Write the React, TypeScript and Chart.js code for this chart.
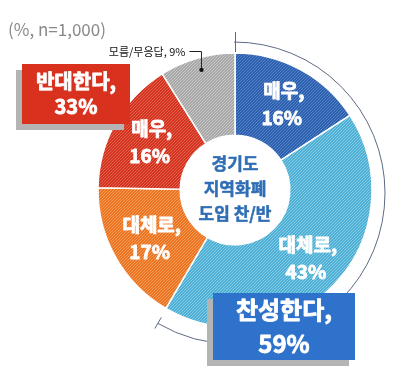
import React, { useEffect, useRef } from 'react';
import { Chart, registerables } from 'chart.js';

Chart.register(...registerables);

const categories = ['매우 찬성', '대체로 찬성', '대체로 반대', '매우 반대', '모름/무응답'];
const values = [16, 43, 17, 16, 9];
const segLabelTop = ['매우,', '대체로,', '대체로,', '매우,', ''];
const segLabelBottom = ['16%', '43%', '17%', '16%', ''];
const baseColors = ['#2C60AF', '#4DAFD3', '#EC7320', '#D3321F', '#A7A7A7'];
const stripeColors = ['#5483C8', '#86CCE6', '#F49C5A', '#E2634F', '#C9C9C9'];
const centerLines = ['경기도', '지역화폐', '도입 찬/반'];
const noteText = '(%, n=1,000)';
const groupAgainst = ['반대한다,', '33%'];
const groupFor = ['찬성한다,', '59%'];
const unknownLabel = '모름/무응답, 9%';

const FONT = '"Noto Sans CJK KR", "Noto Sans", sans-serif';

function hexToRgb(h: string) {
  const v = parseInt(h.slice(1), 16);
  return [(v >> 16) & 255, (v >> 8) & 255, v & 255];
}

function makePattern(base: string, stripe: string): CanvasPattern | string {
  const c = document.createElement('canvas');
  const n = 3;
  c.width = n;
  c.height = n;
  const ctx = c.getContext('2d');
  if (!ctx) return base;
  const img = ctx.createImageData(n, n);
  const b = hexToRgb(base);
  const s = hexToRgb(stripe);
  for (let y = 0; y < n; y++) {
    for (let x = 0; x < n; x++) {
      const i = (y * n + x) * 4;
      const col = (x + y) % n === 0 ? s : b;
      img.data[i] = col[0];
      img.data[i + 1] = col[1];
      img.data[i + 2] = col[2];
      img.data[i + 3] = 255;
    }
  }
  ctx.putImageData(img, 0, 0);
  const p = ctx.createPattern(c, 'repeat');
  return p || base;
}

function heavyText(ctx: CanvasRenderingContext2D, t: string, x: number, y: number, w: number) {
  ctx.lineWidth = w;
  ctx.lineJoin = 'round';
  ctx.strokeStyle = ctx.fillStyle as string;
  ctx.strokeText(t, x, y);
  ctx.fillText(t, x, y);
}

const overlayPlugin = {
  id: 'overlay',
  afterDatasetsDraw(chart: any) {
    const ctx: CanvasRenderingContext2D = chart.ctx;
    const meta = chart.getDatasetMeta(0);
    const arcs = meta.data as any[];
    if (!arcs.length) return;
    const cx = arcs[0].x;
    const cy = arcs[0].y;
    const outer = arcs[0].outerRadius;

    ctx.save();
    ctx.textAlign = 'center';
    ctx.textBaseline = 'middle';

    // segment labels
    arcs.forEach((a: any, i: number) => {
      if (!segLabelTop[i]) return;
      const mid = (a.startAngle + a.endAngle) / 2;
      const r = (a.innerRadius + a.outerRadius) / 2 + 2;
      const x = cx + Math.cos(mid) * r;
      const y = cy + Math.sin(mid) * r;
      ctx.font = `bold 19px ${FONT}`;
      ctx.fillStyle = '#FFFFFF';
      heavyText(ctx, segLabelTop[i], x + 2, y - 13, 0.8);
      heavyText(ctx, segLabelBottom[i], x, y + 14, 0.8);
    });

    // center text
    ctx.font = `bold 17px ${FONT}`;
    ctx.fillStyle = '#2F6DB4';
    centerLines.forEach((t, k) => {
      heavyText(ctx, t, cx, cy - 26 + k * 25, 0.5);
    });

    // outer arc for "찬성"
    const acx = cx - 1;
    const acy = cy + 3;
    const ar = outer + 14;
    const endAng = arcs[1].endAngle;
    ctx.strokeStyle = '#5C6B82';
    ctx.lineWidth = 1;
    ctx.beginPath();
    ctx.arc(acx, acy, ar, -Math.PI / 2, endAng);
    ctx.stroke();
    ctx.beginPath();
    ctx.moveTo(cx + 0.5, acy - ar - 10);
    ctx.lineTo(cx + 0.5, cy - outer - 1);
    ctx.stroke();
    ctx.beginPath();
    ctx.moveTo(acx + Math.cos(endAng) * (ar - 7), acy + Math.sin(endAng) * (ar - 7));
    ctx.lineTo(acx + Math.cos(endAng) * (ar + 6), acy + Math.sin(endAng) * (ar + 6));
    ctx.stroke();

    // unknown leader
    const g = arcs[4];
    const gm = (g.startAngle + Math.min(g.endAngle, 1.5 * Math.PI)) / 2;
    const dx = cx + Math.cos(gm) * (outer - 12);
    const dy = cy + Math.sin(gm) * (outer - 12);
    ctx.strokeStyle = '#222';
    ctx.beginPath();
    ctx.moveTo(dx - 11, cy - outer - 1.5);
    ctx.lineTo(dx + 1, cy - outer - 1.5);
    ctx.lineTo(dx + 1, dy);
    ctx.stroke();
    ctx.fillStyle = '#111';
    ctx.beginPath();
    ctx.arc(dx + 1, dy, 2.2, 0, Math.PI * 2);
    ctx.fill();
    ctx.font = `11px ${FONT}`;
    ctx.textAlign = 'right';
    ctx.fillStyle = '#111';
    ctx.fillText(unknownLabel, dx - 15, cy - outer - 1);

    // note
    ctx.textAlign = 'left';
    ctx.font = `17px ${FONT}`;
    ctx.fillStyle = '#8A8A8A';
    ctx.fillText(noteText, 8, 30);

    const drawBox = (x: number, y: number, w: number, h: number, fill: string, lines: string[], size: number, gap: number) => {
      ctx.fillStyle = '#B4B4B4';
      ctx.fillRect(x - 6, y + 6, w, h);
      ctx.fillStyle = fill;
      ctx.fillRect(x, y, w, h);
      ctx.fillStyle = '#FFFFFF';
      ctx.textAlign = 'center';
      ctx.font = `bold ${size}px ${FONT}`;
      heavyText(ctx, lines[0], x + w / 2, y + h / 2 - gap / 2, 0.8);
      heavyText(ctx, lines[1], x + w / 2, y + h / 2 + gap / 2, 0.8);
    };
    drawBox(22, 64, 108, 60, '#D8311D', groupAgainst, 20, 25);
    drawBox(213, 293, 142, 67, '#2F72CB', groupFor, 24, 34);

    ctx.restore();
  },
};

export default function App() {
  const ref = useRef<HTMLCanvasElement | null>(null);
  useEffect(() => {
    if (!ref.current) return;
    const patterns = baseColors.map((b, i) => makePattern(b, stripeColors[i]));
    const chart = new Chart(ref.current, {
      type: 'doughnut',
      data: {
        labels: categories,
        datasets: [
          {
            data: values,
            backgroundColor: patterns as any,
            borderColor: '#FFFFFF',
            borderWidth: 1.5,
            radius: 137,
            cutout: '40%',
          } as any,
        ],
      },
      options: {
        responsive: false,
        animation: false,
        layout: { padding: { left: 100, right: 32, top: 53, bottom: 50 } },
        plugins: {
          legend: { display: false },
          tooltip: { enabled: false },
        },
      },
      plugins: [overlayPlugin],
    });
    return () => chart.destroy();
  }, []);
  return (
    <div style={{ position: 'absolute', left: 0, top: 0, width: 402, height: 377, background: '#fff' }}>
      <canvas ref={ref} width={402} height={377} style={{ display: 'block' }} />
    </div>
  );
}
